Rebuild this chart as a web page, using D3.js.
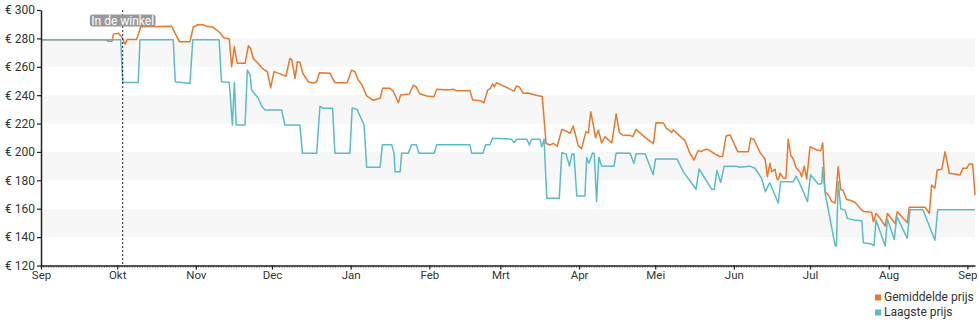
<!DOCTYPE html>
<html>
<head>
<meta charset="utf-8">
<script src="https://cdn.jsdelivr.net/npm/d3@7"></script>
<style>
  body { margin: 0; background: #fff; }
  svg { display: block; font-family: Roboto, "Noto Sans", sans-serif; }
</style>
</head>
<body>
<svg id="chart" width="980" height="325"></svg>
<script>
// Price history, one year from September; days are counted from the first date.
const startDate = new Date(2016, 8, 1);
const endDate = new Date(2017, 8, 4);
const monthLabels = ["Sep", "Okt", "Nov", "Dec", "Jan", "Feb", "Mrt", "Apr", "Mei", "Jun", "Jul", "Aug", "Sep"];
const priceTicks = [120, 140, 160, 180, 200, 220, 240, 260, 280, 300];
const shadedBands = [[140, 160], [180, 200], [220, 240], [260, 280]];
const seriesNames = ["Gemiddelde prijs", "Laagste prijs"];
const storeMarkerDay = 32.2;
const storeMarkerLabel = "In de winkel";

// [day, price] — average price
const avgSeries = [
  [0,279],[25.6,279],[26.4,278],[28,278],[28.5,283],[30.5,283.6],[31.8,281],[33.1,276],[34,279.3],[37.7,279.3],
  [39.3,288.2],[51.5,288.5],[54.5,277.7],[58.7,277.7],[60,288],[62,289.8],[64.2,289.4],[65.3,288.5],[67.9,287.8],
  [70.5,284],[72,280.5],[74.2,279.5],[75.1,260],[76.2,274.1],[77.3,262.4],[80.4,262.4],[81.7,274.8],[82.6,273],
  [83.6,266],[87.6,258.3],[89.2,256.5],[90.5,245.2],[91.8,256.6],[94.2,255],[96.5,253.3],[98.1,266],[98.8,265],
  [100.1,251.9],[101,263.6],[102,263.2],[103.1,255.6],[105.3,249.5],[107.3,248.6],[108.6,249.5],[109.7,255.8],
  [113.9,255.4],[115.8,248.8],[120.6,248.8],[122.4,257.7],[123.7,256.5],[125,250.7],[126.4,247.5],[128.3,239.5],
  [130.9,236.4],[133.6,237.8],[134.6,244.8],[137.5,244.8],[138.8,242.8],[140.8,234.7],[141.7,240.1],[145.1,240.8],
  [146.7,247],[147.8,246],[149.2,241],[152,239.4],[154.8,238.9],[155.9,244.1],[159.9,243.6],[162.5,244.1],
  [163.8,243.1],[169,243.1],[170.1,236.6],[173,236.1],[174.5,234.5],[176,243.6],[176.9,244.5],[178,248],
  [178.6,246],[179.5,248.8],[186.4,242.8],[187.4,246.5],[188.6,245.5],[190,241.3],[192,241.5],[194.6,240.1],
  [197.5,239],[199,206],[200.6,204.9],[201.9,206],[203.4,204],[205.2,215.9],[207.1,214.6],[208.4,213.1],
  [209.7,218.3],[211.7,204.3],[213,202.3],[214.7,214.3],[215.7,213.4],[216.6,228.4],[217.6,219],[218.5,210],
  [219.6,215.5],[220.9,206.3],[222.2,210.8],[224.9,206.3],[226.6,226.7],[227.9,213.7],[229,212],[232.3,211.5],
  [233.2,210.8],[234.4,215.9],[238,210.3],[241.3,205.8],[242.3,220.6],[245.2,220.4],[246.5,216.5],[247.3,215.5],
  [248.5,213.8],[249.1,215.5],[253.7,208],[255.7,199],[257.3,194.3],[258.9,201],[260.1,200.2],[260.9,201],
  [262,201.9],[263,201.5],[265.5,198.6],[267.3,196.8],[268.6,197],[269.9,211.2],[271.5,212],[274.5,200.2],
  [278.7,200.2],[279.6,209.6],[280.9,208.9],[283.3,199.5],[285.3,195],[286.2,182.6],[287.2,192],[287.9,186.1],
  [289.2,187.8],[289.9,181.5],[290.5,180.2],[291.2,185],[292.5,181.5],[293.5,181.5],[294.4,209],[295.4,197.5],
  [296.4,195],[297.5,188.8],[299,186],[299.7,182.6],[300.7,190],[301.7,181],[303,203.7],[305.6,201.4],
  [307.2,200.9],[308,206.3],[308.9,172],[310.2,169.7],[311.6,165],[312.9,164],[314.1,189.6],[315.1,173.5],
  [316,173],[317.4,166.5],[318.8,166],[320.7,164.6],[322.7,160.3],[324,158],[327.3,157.5],[328,150.8],
  [329,156.7],[330.6,153.2],[332.6,147.8],[333.5,156.7],[336.5,149.6],[337.4,157.9],[341.3,150.1],[342.1,161],
  [348.3,161],[350,156.7],[350.9,176.7],[352.2,174.4],[353.1,187.3],[354.9,187.8],[356.2,200.2],[357.9,185],
  [362.1,183.8],[363.2,188.5],[364.7,188.5],[365.7,191.5],[367.1,191.5],[368,169.7]
];

// [day, price] — lowest price
const lowSeries = [
  [0,279],[31.4,279],[32.2,249],[38.3,249],[39,279],[52.1,279],[52.9,249.5],[58.7,248.2],[59.8,279],[70.2,279],
  [71.1,249.5],[74.2,249],[75.4,219],[76.2,249],[76.9,219],[80.4,219],[81.3,257.7],[82.4,254],[83,243.6],
  [85.6,237.8],[87,232],[88.3,229.5],[94.8,229.5],[96.1,219],[102,219],[103,199],[108.6,199],[109.9,232],
  [111.3,230.7],[114.9,230.7],[115.8,199],[121.7,199],[122.6,231],[124.5,230],[127.3,219],[128.3,189.3],
  [133.6,189.3],[134.5,205],[138.2,205],[139.1,199],[139.5,186],[141.5,186],[142.1,199],[144.7,199],[146,205],
  [147.9,205],[148.9,199],[154.9,199],[155.9,205],[169,205],[169.7,199],[174.1,199],[175.2,205],[176.9,205],
  [177.9,209.6],[185.4,209],[186.3,206.5],[187.4,209],[191.4,209],[192.4,205],[193.3,209],[196.6,209],
  [197.3,203.7],[198.2,209],[199.3,167.3],[204.2,167.3],[205.2,199.5],[206.9,198.6],[208.2,190],[209.2,198.6],
  [210,198.6],[211.1,169],[214.3,169],[215,196],[215.9,192],[217.3,199.3],[218,199],[218.9,165],[219.8,196.3],
  [220.9,190],[225.8,190],[226.6,199.3],[232.1,199],[233.6,192],[234.5,198.8],[238,198.8],[241.2,184],
  [242.1,195],[250.6,195],[253.1,186],[258.1,173.7],[259.3,188],[264.3,173.7],[265.3,173.7],[266.3,187],
  [267.8,178.5],[269.2,190],[274.1,190],[275.1,189.2],[279.4,190],[281.3,188.5],[283.9,181.5],[285.4,172],
  [287.1,178.3],[290.5,164],[291.4,179],[296.4,179],[297.5,183],[298.8,178.5],[302,165],[303.2,184],
  [306.3,177.3],[307.6,177.8],[308,189.2],[308.9,171.5],[312.9,134],[313.4,134],[314.1,179],[315.1,160],
  [316.8,159],[317.7,153.2],[320.1,152],[323.4,151.5],[324,136],[327.3,135.2],[328.2,133.7],[329,152],
  [332.6,133.7],[333.5,152.6],[336.2,138.3],[337.2,154.4],[341.3,139.3],[342.4,159.3],[347.5,159.3],
  [352.2,137.8],[353.3,159.3],[368,159.3]
];

const colors = { avg: "#e8782c", low: "#5bbcc5" };
const DAY_MS = 86400000;
const toDate = d => new Date(startDate.getTime() + d * DAY_MS);

const svg = d3.select("#chart");
const plotLeft = 41, plotRight = 975, plotTop = 10, plotBottom = 265.5;

const x = d3.scaleTime().domain([startDate, endDate]).range([plotLeft, plotRight]);
const y = d3.scaleLinear().domain([120, 300]).range([plotBottom, plotTop]);

// Alternating shaded bands
svg.append("g").selectAll("rect")
  .data(shadedBands)
  .join("rect")
  .attr("x", plotLeft)
  .attr("width", plotRight - plotLeft)
  .attr("y", d => y(d[1]))
  .attr("height", d => y(d[0]) - y(d[1]))
  .attr("fill", "#f7f7f7");

// Daily minor ticks along the time axis
svg.append("g")
  .attr("transform", `translate(0,${plotBottom})`)
  .selectAll("line")
  .data(d3.timeDay.range(startDate, endDate))
  .join("line")
  .attr("x1", d => x(d)).attr("x2", d => x(d))
  .attr("y1", 0).attr("y2", 2.5)
  .attr("stroke", "#999")
  .attr("stroke-width", 0.9);

// Lines
const line = d3.line()
  .x(d => x(toDate(d[0])))
  .y(d => y(d[1]));

svg.append("path")
  .datum(avgSeries)
  .attr("d", line)
  .attr("fill", "none")
  .attr("stroke", colors.avg)
  .attr("stroke-width", 1.5)
  .attr("stroke-linejoin", "round");

svg.append("path")
  .datum(lowSeries)
  .attr("d", line)
  .attr("fill", "none")
  .attr("stroke", colors.low)
  .attr("stroke-width", 1.5)
  .attr("stroke-linejoin", "round");

// Axes
const months = d3.timeMonth.range(startDate, endDate);
const xAxis = d3.axisBottom(x)
  .tickValues(months)
  .tickFormat((d, i) => monthLabels[i])
  .tickSize(4)
  .tickSizeOuter(0)
  .tickPadding(1);

const yAxis = d3.axisLeft(y)
  .tickValues(priceTicks)
  .tickFormat(d => "€ " + d)
  .tickSize(4)
  .tickSizeOuter(0)
  .tickPadding(2);

const gx = svg.append("g").attr("transform", `translate(0,${plotBottom})`).call(xAxis);
const gy = svg.append("g").attr("transform", `translate(${plotLeft},0)`).call(yAxis);

[gx, gy].forEach(g => {
  g.select(".domain").attr("stroke", "#222").attr("stroke-width", 1.5);
  g.selectAll(".tick line").attr("stroke", "#222").attr("stroke-width", 1.2);
  g.selectAll(".tick text").attr("fill", "#333").style("font-family", "Roboto, sans-serif");
});
gx.selectAll(".tick text").style("font-size", "11.5px");
gy.selectAll(".tick text").style("font-size", "12px");

// Store availability marker
const sx = x(toDate(storeMarkerDay));
svg.append("line")
  .attr("x1", sx).attr("x2", sx)
  .attr("y1", plotTop).attr("y2", plotBottom)
  .attr("stroke", "#222")
  .attr("stroke-width", 1)
  .attr("stroke-dasharray", "2,2");

const labelG = svg.append("g");
const labelText = labelG.append("text")
  .attr("x", sx)
  .attr("y", 24.5)
  .attr("text-anchor", "middle")
  .attr("fill", "#fff")
  .style("font-size", "12px")
  .text(storeMarkerLabel);
const bb = labelText.node().getBBox();
labelG.insert("rect", "text")
  .attr("x", bb.x - 1.5)
  .attr("y", 14.5)
  .attr("width", bb.width + 3)
  .attr("height", 12)
  .attr("rx", 3)
  .attr("fill", "#9a9a9a");

// Legend
const legend = svg.append("g").attr("transform", "translate(875,294)");
const legendColors = [colors.avg, colors.low];
seriesNames.forEach((name, i) => {
  const row = legend.append("g").attr("transform", `translate(0,${i * 15})`);
  row.append("rect").attr("width", 6).attr("height", 6).attr("y", 0.5).attr("fill", legendColors[i]);
  row.append("text")
    .attr("x", 9)
    .attr("y", 6.5)
    .attr("fill", "#333")
    .style("font-size", "12px")
    .text(name);
});
</script>
</body>
</html>
